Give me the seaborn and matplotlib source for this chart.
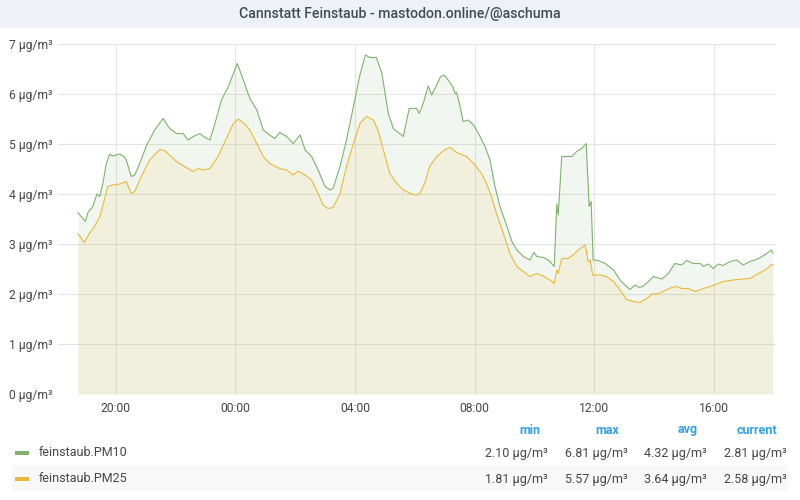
import pandas as pd
import matplotlib.pyplot as plt
import matplotlib.dates as mdates
from matplotlib.patches import Rectangle
import seaborn as sns

# PM10 readings (time of day, µg/m³)
pm10_times = [
    "18:44", "18:59", "19:04", "19:14", "19:22", "19:28", "19:34", "19:41", "19:48", "19:53",
    "20:08", "20:16", "20:21", "20:27", "20:31", "20:38", "20:48", "21:02", "21:18", "21:35",
    "21:48", "22:02", "22:15", "22:25", "22:35", "22:49", "22:59", "23:09", "23:19", "23:32",
    "23:46", "23:56", "00:04", "00:16", "00:29", "00:43", "00:56", "01:09", "01:19", "01:29",
    "01:43", "01:56", "02:10", "02:20", "02:33", "02:46", "03:00", "03:10", "03:16", "03:30",
    "03:43", "03:57", "04:10", "04:21", "04:30", "04:43", "04:54", "05:07", "05:17", "05:37",
    "05:49", "06:04", "06:09", "06:17", "06:27", "06:34", "06:44", "06:52", "06:59", "07:07",
    "07:16", "07:21", "07:24", "07:31", "07:37", "07:47", "07:58", "08:08", "08:21", "08:31",
    "08:41", "08:51", "09:05", "09:15", "09:25", "09:38", "09:51", "09:59", "10:05", "10:18",
    "10:28", "10:40", "10:45", "10:48", "10:55", "11:05", "11:15", "11:25", "11:35", "11:44",
    "11:50", "11:54", "11:58", "12:08", "12:22", "12:39", "12:52", "13:05", "13:12", "13:22",
    "13:31", "13:39", "13:49", "13:59", "14:16", "14:29", "14:42", "14:56", "15:06", "15:19",
    "15:33", "15:39", "15:49", "15:59", "16:09", "16:19", "16:33", "16:46", "16:59", "17:13",
    "17:26", "17:39", "17:56", "17:59",
]
pm10_values = [
    3.63, 3.45, 3.63, 3.75, 4.00, 3.95, 4.21, 4.61, 4.80, 4.76,
    4.80, 4.75, 4.68, 4.48, 4.35, 4.38, 4.61, 4.98, 5.28, 5.51,
    5.31, 5.21, 5.21, 5.08, 5.15, 5.21, 5.13, 5.08, 5.41, 5.88,
    6.15, 6.41, 6.61, 6.28, 5.91, 5.68, 5.28, 5.18, 5.11, 5.23,
    5.15, 5.01, 5.18, 4.88, 4.75, 4.48, 4.15, 4.08, 4.11, 4.55,
    5.08, 5.75, 6.38, 6.78, 6.73, 6.73, 6.41, 5.61, 5.31, 5.15,
    5.71, 5.71, 5.61, 5.81, 6.16, 5.98, 6.18, 6.35, 6.38, 6.28,
    6.15, 6.01, 6.03, 5.75, 5.45, 5.48, 5.38, 5.21, 4.95, 4.68,
    4.15, 3.75, 3.35, 3.05, 2.88, 2.75, 2.68, 2.83, 2.75, 2.73,
    2.68, 2.55, 3.80, 3.58, 4.75, 4.75, 4.75, 4.85, 4.91, 5.01,
    3.75, 3.85, 2.68, 2.67, 2.61, 2.48, 2.28, 2.15, 2.09, 2.18,
    2.13, 2.16, 2.25, 2.35, 2.30, 2.41, 2.61, 2.58, 2.67, 2.61,
    2.61, 2.55, 2.60, 2.51, 2.60, 2.57, 2.65, 2.68, 2.58, 2.65,
    2.69, 2.76, 2.88, 2.81,
]

# PM2.5 readings
pm25_times = [
    "18:44", "18:57", "19:07", "19:17", "19:28", "19:37", "19:44", "19:54", "20:08", "20:21",
    "20:31", "20:38", "20:51", "21:08", "21:28", "21:38", "22:02", "22:18", "22:35", "22:45",
    "22:55", "23:09", "23:25", "23:42", "23:56", "00:06", "00:19", "00:29", "00:43", "00:56",
    "01:09", "01:29", "01:43", "01:56", "02:06", "02:20", "02:33", "02:46", "02:56", "03:06",
    "03:16", "03:30", "03:43", "03:57", "04:10", "04:23", "04:37", "04:47", "04:57", "05:10",
    "05:24", "05:37", "05:54", "06:04", "06:10", "06:20", "06:30", "06:44", "07:01", "07:11",
    "07:24", "07:44", "08:01", "08:14", "08:24", "08:34", "08:44", "08:58", "09:11", "09:25",
    "09:38", "09:51", "10:05", "10:18", "10:31", "10:40", "10:45", "10:48", "10:55", "11:08",
    "11:18", "11:28", "11:42", "11:48", "11:52", "11:57", "12:12", "12:25", "12:39", "12:52",
    "13:05", "13:19", "13:32", "13:46", "13:56", "14:09", "14:22", "14:36", "14:46", "14:56",
    "15:09", "15:23", "15:39", "15:59", "16:19", "16:40", "16:59", "17:13", "17:26", "17:45",
    "17:56", "17:59",
]
pm25_values = [
    3.21, 3.03, 3.21, 3.35, 3.55, 3.88, 4.15, 4.18, 4.20, 4.25,
    4.01, 4.05, 4.35, 4.68, 4.89, 4.87, 4.65, 4.55, 4.45, 4.51,
    4.48, 4.51, 4.75, 5.11, 5.41, 5.50, 5.40, 5.28, 5.01, 4.75,
    4.61, 4.51, 4.48, 4.38, 4.46, 4.38, 4.28, 4.01, 3.78, 3.71,
    3.73, 4.01, 4.55, 5.01, 5.41, 5.55, 5.48, 5.25, 4.88, 4.41,
    4.21, 4.08, 4.00, 3.98, 4.01, 4.21, 4.55, 4.75, 4.89, 4.93,
    4.83, 4.75, 4.58, 4.41, 4.21, 3.95, 3.61, 3.21, 2.81, 2.55,
    2.45, 2.35, 2.41, 2.36, 2.28, 2.21, 2.48, 2.41, 2.71, 2.71,
    2.78, 2.88, 2.98, 2.65, 2.68, 2.38, 2.38, 2.35, 2.25, 2.08,
    1.89, 1.85, 1.83, 1.91, 2.00, 2.01, 2.07, 2.13, 2.15, 2.11,
    2.11, 2.05, 2.11, 2.17, 2.25, 2.28, 2.30, 2.31, 2.39, 2.49,
    2.59, 2.58,
]

series_names = ["feinstaub.PM10", "feinstaub.PM25"]
series_colors = ["#7eb26d", "#eab839"]
stat_headers = ["min", "max", "avg", "current"]
stats_pm10 = ["2.10 µg/m³", "6.81 µg/m³", "4.32 µg/m³", "2.81 µg/m³"]
stats_pm25 = ["1.81 µg/m³", "5.57 µg/m³", "3.64 µg/m³", "2.58 µg/m³"]
y_ticks = [0, 1, 2, 3, 4, 5, 6, 7]
title = "Cannstatt Feinstaub - mastodon.online/@aschuma"


def to_datetimes(times):
    # readings start at 18:44 on day one and run past midnight
    out = []
    for t in times:
        hh = int(t[:2])
        day = "2021-03-01" if hh >= 18 else "2021-03-02"
        out.append(pd.Timestamp(f"{day} {t}"))
    return out


df = pd.concat([
    pd.DataFrame({"time": to_datetimes(pm10_times), "value": pm10_values, "series": series_names[0]}),
    pd.DataFrame({"time": to_datetimes(pm25_times), "value": pm25_values, "series": series_names[1]}),
], ignore_index=True)

sns.set_style("white")
plt.rcParams["font.family"] = ["Roboto", "DejaVu Sans"]

W, H = 800, 500
fig = plt.figure(figsize=(8, 5), dpi=100)
fig.patch.set_facecolor("white")

# title bar
fig.patches.append(Rectangle((0, 1 - 28 / H), 1, 28 / H, transform=fig.transFigure,
                             facecolor="#eef1f6", edgecolor="none", zorder=0))
fig.text(0.5, 1 - 14 / H, title, ha="center", va="center", fontsize=10.2,
         color="#464c54", fontweight="medium")

ax = fig.add_axes([58 / W, 1 - 394 / H, (776 - 58) / W, (394 - 44) / H])

for name, color in zip(series_names, series_colors):
    sub = df[df["series"] == name]
    ax.fill_between(sub["time"], 0, sub["value"], color=color, alpha=0.1, linewidth=0, zorder=1)

sns.lineplot(data=df, x="time", y="value", hue="series", palette=series_colors,
             linewidth=0.8, legend=False, ax=ax, zorder=3)

ax.set_xlim(pd.Timestamp("2021-03-01 18:04"), pd.Timestamp("2021-03-02 18:05"))
ax.set_ylim(0, 7)
ax.set_yticks(y_ticks)
ax.set_yticklabels([f"{v} µg/m³" for v in y_ticks])
ax.xaxis.set_major_locator(mdates.HourLocator(byhour=[0, 4, 8, 12, 16, 20]))
ax.xaxis.set_major_formatter(mdates.DateFormatter("%H:%M"))
ax.set_xlabel("")
ax.set_ylabel("")
ax.grid(True, color="#e4e4e4", linewidth=0.8, zorder=0)
ax.set_axisbelow(True)
for s in ax.spines.values():
    s.set_visible(False)
ax.tick_params(axis="both", length=0, labelsize=8.7, colors="#464646")
ax.tick_params(axis="x", pad=6)
ax.tick_params(axis="y", pad=4)

# legend table below the plot
col_right = [540, 619, 698, 777]
val_right = [548, 628, 707, 787]
for x, h in zip(col_right, stat_headers):
    fig.text(x / W, 1 - 430 / H, h, ha="right", va="center", fontsize=9,
             color="#33a2e5", fontweight="bold")

fig.patches.append(Rectangle((12 / W, 1 - 491 / H), (788 - 12) / W, 26 / H,
                             transform=fig.transFigure, facecolor="#f8f8f8",
                             edgecolor="none", zorder=0))
rows_y = [453, 479]
for y, name, color, stats in zip(rows_y, series_names, series_colors, [stats_pm10, stats_pm25]):
    fig.patches.append(Rectangle((15 / W, 1 - (y + 2) / H), 14 / W, 4 / H,
                                 transform=fig.transFigure, facecolor=color,
                                 edgecolor="none", zorder=1))
    fig.text(39 / W, 1 - y / H, name, ha="left", va="center", fontsize=9, color="#464646")
    for x, s in zip(val_right, stats):
        fig.text(x / W, 1 - y / H, s, ha="right", va="center", fontsize=9, color="#464646")

fig.savefig("out.png", dpi=100)
